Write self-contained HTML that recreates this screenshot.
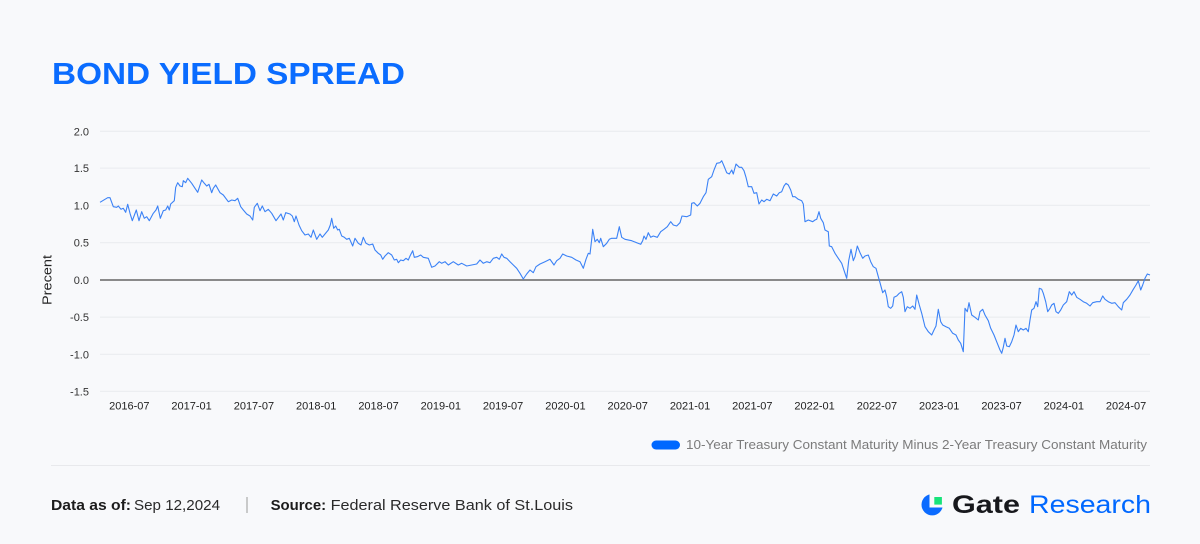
<!DOCTYPE html>
<html>
<head>
<meta charset="utf-8">
<style>
  html,body{margin:0;padding:0;background:#f8f9fb;}
  svg{display:block;}
  text{font-family:"Liberation Sans",Arial,sans-serif;}
</style>
</head>
<body>
<svg width="1200" height="544" viewBox="0 0 1200 544" xmlns="http://www.w3.org/2000/svg">
  <rect x="0" y="0" width="1200" height="544" fill="#f8f9fb"/>

  <!-- Title -->
  <text x="52" y="84" font-size="31" font-weight="bold" fill="#0a6cff" textLength="353" lengthAdjust="spacingAndGlyphs">BOND YIELD SPREAD</text>

  <!-- Gridlines -->
  <g stroke="#eceef1" stroke-width="1.3">
    <line x1="100" y1="131.3" x2="1150" y2="131.3"/>
    <line x1="100" y1="168.1" x2="1150" y2="168.1"/>
    <line x1="100" y1="205.4" x2="1150" y2="205.4"/>
    <line x1="100" y1="242.6" x2="1150" y2="242.6"/>
    <line x1="100" y1="317.2" x2="1150" y2="317.2"/>
    <line x1="100" y1="354.4" x2="1150" y2="354.4"/>
    <line x1="100" y1="391.4" x2="1150" y2="391.4"/>
  </g>
  <line x1="100" y1="280" x2="1150" y2="280" stroke="#7a7a7a" stroke-width="1.8"/>

  <!-- Y labels -->
  <g font-size="11" fill="#333" text-anchor="end">
    <text x="89" y="135.3">2.0</text>
    <text x="89" y="172.1">1.5</text>
    <text x="89" y="209.4">1.0</text>
    <text x="89" y="246.6">0.5</text>
    <text x="89" y="284">0.0</text>
    <text x="89" y="321.2">-0.5</text>
    <text x="89" y="358.4">-1.0</text>
    <text x="89" y="395.4">-1.5</text>
  </g>
  <text transform="translate(51.5,280) rotate(-90)" font-size="13" fill="#222" text-anchor="middle" textLength="50" lengthAdjust="spacingAndGlyphs">Precent</text>

  <!-- X labels -->
  <g font-size="11" fill="#222" text-anchor="middle">
    <text x="129.3" y="409.3">2016-07</text>
    <text x="191.6" y="409.3">2017-01</text>
    <text x="253.9" y="409.3">2017-07</text>
    <text x="316.2" y="409.3">2018-01</text>
    <text x="378.5" y="409.3">2018-07</text>
    <text x="440.8" y="409.3">2019-01</text>
    <text x="503.1" y="409.3">2019-07</text>
    <text x="565.4" y="409.3">2020-01</text>
    <text x="627.7" y="409.3">2020-07</text>
    <text x="690" y="409.3">2021-01</text>
    <text x="752.3" y="409.3">2021-07</text>
    <text x="814.6" y="409.3">2022-01</text>
    <text x="876.9" y="409.3">2022-07</text>
    <text x="939.2" y="409.3">2023-01</text>
    <text x="1001.5" y="409.3">2023-07</text>
    <text x="1063.8" y="409.3">2024-01</text>
    <text x="1126.1" y="409.3">2024-07</text>
  </g>

  <!-- Series -->
  <polyline fill="none" stroke="#3b82f6" stroke-width="1.1" stroke-linejoin="round" points="
100,202.3 105,199.3 107.7,197.7 110,197.7 113.3,206.7 116.7,207.3 118.3,206 121,209.3 123.3,208.3 125.7,212.3 127.7,204.3 130,213.3 132.3,220.7 136.3,210 139,220.7 141.7,211.7 144.3,218.3 146.7,216.7 149.3,220.7 153.3,213.3 156,210 157.7,206 160.3,218.3 163.3,210.7 165.7,210 167.7,206 169.3,210 170.7,204 174.3,200.7 175.7,187.3 177.7,182.7 180,186 182.3,186.7 183.3,180.7 185.7,182.7 187.7,178.3 191.7,183.3 195,188.3 197.7,192.3 201.7,180 204.3,183.3 206.7,186 209,184.3 211.7,192.7 213.3,188.3 215.7,185 220,192.7 223.3,195 228.3,201.7 231.7,200 235,200.7 237.7,198.3 240.7,206.7 243.3,210 246.7,214 250,216 252.7,220 254.3,207.3 257.3,203.3 260,210.7 262.3,206 265,211.7 268.3,209.3 271.7,213.3 276,220.7 279,216.7 281,214 283.3,220 285.7,212.7 290,214 292.3,216 294.3,221.7 296,216 299,225 301.7,230.7 305,235 308.3,234 311,237.3 313.3,230 316.7,239.3 320,234 322.3,237.3 325,234 328.3,230 330.3,225 331.7,218.3 333.7,228.3 335.7,226 337.7,230 339.3,229.3 341.7,236 344.3,237.3 346.7,239.3 349.3,238.3 352.7,246 355,238.3 358.3,243.3 361,245
363.3,237.3 366,243.3 369.3,245 372.7,244 375,250 378.3,253.3 380.7,255 382.7,259.3 385,256 388.3,252.7 391.7,255 394.3,260 396.7,259.3 398.3,262.7 400.7,260 403.3,260.7 406,258.3 408.3,260 410,256 412.7,250.7 414.3,257.3 417.3,256.7 420.7,255 423.3,257.3 428.3,258.3 431.7,267.3 435,266 439.3,261.7 441.7,263.3 445,261.7 448.3,265 453.3,261.7 458.3,265 461.7,263.3 466.7,266 471.7,265 476.7,264 480,260 483.3,263.3 486.7,261.7 490,262.7 493.3,258.3 496.7,257.3 499.3,259.3 501.7,254 504,257.3 506.7,258.3 510,261.7 513.3,265 516.7,268.3 520,273.3 523.3,279 526.7,274 530,270 533.3,272.7 536,266.7 540,264 545,261.7 550,259.3 554,265 556.7,260.7 560,258.3 562.7,254 566.7,256 571.7,257.3 576,260 580,261.7 583.3,268.3 586,259.3 588.3,253.3 590,254 591.7,239.3 592.7,229.3 595,241.7 597.3,239.3 599.3,242.7 600.7,238.3 603.3,246.7 606.7,243.3 609.3,239.3 611.7,238.3 616.7,238.3 619.3,226.7 621.7,237.3 625,239.3
631.7,240.7 636.7,242.7 640.7,244.3 642.7,240.7 644,236 646,239.3 648.3,232.7 650.7,237.3 653.3,236 657.3,237.3 660.7,231.7 664,229.3 667.3,226.7 670.7,221.7 673.3,225 676.7,226 680,222.7 682,216 686.7,216.7 690.7,215 691.7,203.3 694,202.7 697.3,206 700,203.3 703.3,196.7 706,192.7 708.3,179.3 711.7,176.7 714,170 716.7,163.3 720,162.7 721.7,160.7 724,166 726.7,172.7 729.3,174 731.7,170 733.3,174 736,164 739.3,167.3 741.7,167.3 744,170.7 746,177.3 748.3,186.7 751.7,186.7 754,193.3 756.7,192.7 759,204 761.7,200 764,201.7 766.7,199.3 770,200.7 773.3,194 776.7,196 779.3,192.7 781.7,191.7 784,186 786,183.3 788.3,185 790.7,190 792.7,196.7 795,196.7 798.3,199.3 801.7,200.7 803.3,204 805,221.7 808.3,220 812.7,221.7 815,220 816.7,219.3 819,211.7 820.7,218.3 823.3,222.7 825,230 828.3,231.7 829.3,246 831.7,246.7 835,253.3 838.3,258.3 841.7,263.3 845,273.3 846.7,278.3 848.7,260.7 851,249.3 853.3,260.7 855,256.7 857.3,246 860,252.7 862.7,258.3 865,256 868.3,255 870.7,261.7 873.3,266.7 876,268.3
878.3,276.7 880,282.7 882.7,292.7 885,290 886.7,296.7 888.3,306.7 890.7,308.3 892.7,306 894,297.3 896.7,296 899.3,293.3 901.7,291.7 903.3,297.3 905,311.7 907.3,306.7 910,308.3 912.7,306 915,309.3 916.7,295 919.3,305 921.7,313.3 925,326.7 928.3,331.7 931.7,335 934,330 936,326 938.3,309.3 940.7,321.7 942.7,325 946,326.7 949.3,328.3 952.7,333.3 956,335 958.3,340 960.7,343.3 963.3,351.7 965,308.3 967.3,311.7 969,302.7 971.7,315 975,317.3 978.3,320 980,311.7 982.7,309.3 985,315 988.3,320.7 990.7,328.3 994,335 997.3,343.3 1000,350 1001.7,353.3 1003.3,347.3 1005,338.3 1006.7,346 1009.3,346.7 1011.7,341.7 1014,335 1016,325 1018.3,331.7 1020.7,328.3 1023.3,330 1026,328.3 1028.3,331.7 1030,320 1031.7,310 1034,308.3 1036,301.7 1037.7,306.7 1039.3,288.3 1041.7,289.3 1043.3,293.3 1045.7,301.7 1047.7,311.7 1050,308.3 1051.7,305 1054,303.3 1056,311.7 1058.3,313.3 1060.7,310 1063.3,305 1066.7,301.7 1069.3,291.7 1071.7,295 1074,291.7 1076.7,297.3 1080,299.3 1083.3,301.7 1086.7,303.3 1090,306 1092.7,302.7 1096.7,301.7 1100,301.7 1102.7,296 1105,299.3 1108.3,301.7 1111.7,303.3 1115,302.7 1118.3,306.7 1121.7,310 1123.3,302.7 1126.7,299.3 1130,295 1133.3,289.3 1136,285 1138.3,280.7 1140.7,290 1142.7,285 1145,278.3 1147.3,274 1150,275"/>

  <!-- Legend -->
  <rect x="651.5" y="440.5" width="28.5" height="9" rx="4.5" fill="#0068ff"/>
  <text x="686" y="449" font-size="12.5" fill="#7b7b7b" textLength="461" lengthAdjust="spacingAndGlyphs">10-Year Treasury Constant Maturity Minus 2-Year Treasury Constant Maturity</text>

  <!-- Separator -->
  <line x1="51" y1="465.5" x2="1150" y2="465.5" stroke="#e8e9ec" stroke-width="1"/>

  <!-- Footer -->
  <text x="51" y="510" font-size="15" font-weight="bold" fill="#1c1c1c" textLength="80" lengthAdjust="spacingAndGlyphs">Data as of:</text>
  <text x="134" y="510" font-size="15" fill="#2a2a2a" textLength="86" lengthAdjust="spacingAndGlyphs">Sep 12,2024</text>
  <line x1="247" y1="497" x2="247" y2="513" stroke="#9a9a9a" stroke-width="1"/>
  <text x="270.6" y="510" font-size="15" font-weight="bold" fill="#1c1c1c" textLength="55.5" lengthAdjust="spacingAndGlyphs">Source:</text>
  <text x="330.6" y="510" font-size="15" fill="#2a2a2a" textLength="242.4" lengthAdjust="spacingAndGlyphs">Federal Reserve Bank of St.Louis</text>

  <!-- Logo -->
  <circle cx="932.2" cy="504.7" r="10.7" fill="#0b6bff"/>
  <rect x="929.5" y="492" width="15" height="15.5" fill="#f8f9fb"/>
  <rect x="934.3" y="497" width="7.6" height="7.6" fill="#17e37a"/>
  <text x="952" y="513" font-size="25" font-weight="bold" fill="#17181c" textLength="68" lengthAdjust="spacingAndGlyphs">Gate</text>
  <text x="1029" y="513" font-size="25" fill="#0068ff" textLength="122" lengthAdjust="spacingAndGlyphs">Research</text>
</svg>
</body>
</html>
